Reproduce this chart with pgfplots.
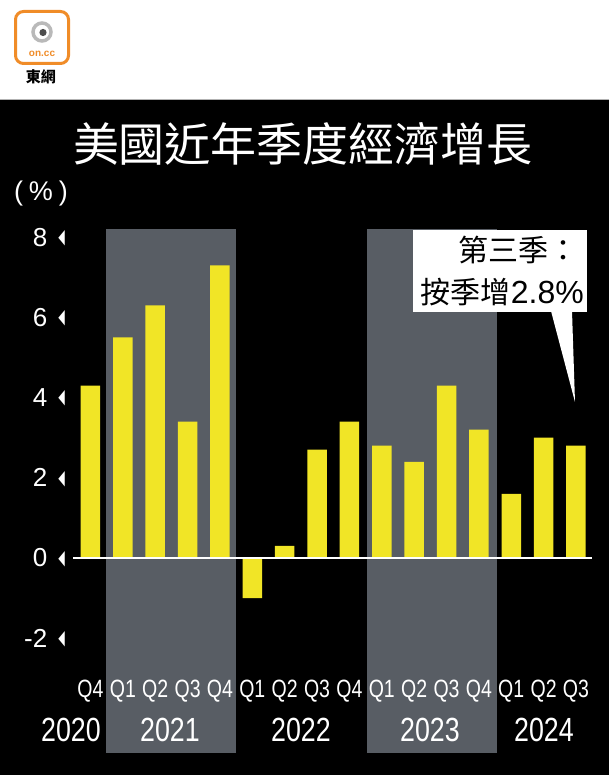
\documentclass[border=0pt]{standalone}
\usepackage{pgfplots}
\pgfplotsset{compat=1.18}
\usepackage{fontspec}
\setmainfont{Liberation Sans}
\newfontfamily\cjk{Noto Sans CJK TC}
\newfontfamily\condf[FakeStretch=0.78]{Liberation Sans}
\newfontfamily\yearf[FakeStretch=0.80]{Liberation Sans}
\newfontfamily\symf{DejaVu Sans}
\definecolor{barY}{RGB}{241,229,38}
\definecolor{bandG}{RGB}{88,93,100}
\definecolor{logoO}{RGB}{240,140,40}
\newcommand\tri{\hspace{11pt}\raisebox{2.6pt}{\resizebox{6.5pt}{13pt}{\symf ◀}}}
\begin{document}
\begin{tikzpicture}[x=1pt,y=1pt]
% backgrounds
\fill[white] (0,0) rectangle (609,775);
\fill[black] (0,0) rectangle (609,675);
\fill[gray!60] (0,674.5) rectangle (609,675.5);
% shaded year bands
\fill[bandG] (106,22) rectangle (236,546);
\fill[bandG] (367,22) rectangle (497,546);
% logo
\draw[logoO, line width=3pt, rounded corners=8pt] (15.5,711.5) rectangle (68.5,763.5);
\draw[gray!55, line width=3.5pt] (42,743) circle (9);
\fill[black!70] (43,742.5) circle (3.6);
\node[logoO, font=\bfseries\fontsize{10}{10}\selectfont, inner sep=0] at (42,721) {on.cc};
\node[black, font=\cjk\bfseries\fontsize{15}{15}\selectfont, inner sep=0] at (41,698) {東網};
% title and unit
\node[white, font=\cjk\fontsize{46}{50}\selectfont, inner sep=0] at (303,631.5) {美國近年季度經濟增長};
\node[white, font=\fontsize{27}{30}\selectfont, inner sep=0] at (41,581) {(\hspace{6pt}\%\hspace{6pt})};
% callout
\fill[white] (413,463) rectangle (587,545);
\fill[white] (551,464) -- (575,373) -- (572,464) -- cycle;
\node[black, font=\cjk\fontsize{30}{32}\selectfont, inner sep=0, anchor=east] at (579,525) {第三季：};
\node[black, font=\cjk\fontsize{30}{32}\selectfont, inner sep=0, anchor=east] at (584,483) {按季增{\fontspec{Liberation Sans}\fontsize{32}{32}\selectfont 2.8\%}};
% chart
\begin{axis}[
  at={(0,0)}, anchor=south west,
  scale only axis, width=609pt, height=775pt,
  xmin=-2.796, xmax=16.02, ymin=-5.411, ymax=13.915,
  axis line style={draw=none},
  tick style={draw=none}, major tick length=0pt,
  xtick={0,...,15},
  xticklabels={Q4,Q1,Q2,Q3,Q4,Q1,Q2,Q3,Q4,Q1,Q2,Q3,Q4,Q1,Q2,Q3},
  xticklabel style={anchor=base, yshift=77pt, inner sep=0pt, text=white, font=\condf\fontsize{25}{25}\selectfont},
  ytick={-2,0,2,4,6,8},
  yticklabels={{-2\tri},{0\tri},{2\tri},{4\tri},{6\tri},{8\tri}},
  yticklabel style={anchor=east, xshift=65pt, inner sep=0pt, text=white, font=\fontsize{26}{26}\selectfont},
  clip=false,
]
\addplot[ybar, bar width=19.5pt, fill=barY, draw=none] coordinates {
  (0,4.3) (1,5.5) (2,6.3) (3,3.4) (4,7.3)
  (5,-1.0) (6,0.3) (7,2.7) (8,3.4)
  (9,2.8) (10,2.4) (11,4.3) (12,3.2)
  (13,1.6) (14,3.0) (15,2.8)
};
\draw[white, line width=2.5pt] (axis cs:-0.54,0) -- (axis cs:15.49,0);
\end{axis}
% year labels
\begin{scope}[every node/.style={white, inner sep=0, anchor=base, font=\yearf\fontsize{33.5}{34}\selectfont}]
\node at (71,33) {2020};
\node at (170,33) {2021};
\node at (301,33) {2022};
\node at (430,33) {2023};
\node at (544,33) {2024};
\end{scope}
\end{tikzpicture}
\end{document}
